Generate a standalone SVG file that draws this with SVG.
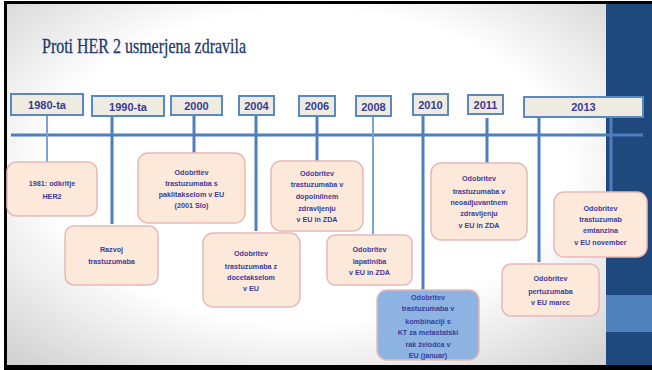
<svg xmlns="http://www.w3.org/2000/svg" width="652" height="370" viewBox="0 0 652 370">
<defs>
<radialGradient id="bg" cx="0.5" cy="0.45" r="0.72">
<stop offset="0.6" stop-color="#ffffff"/>
<stop offset="1" stop-color="#d3d3d3"/>
</radialGradient>
<style>
.yr rect{fill:#eeece1;stroke:#5b88c0;stroke-width:2}
.yr text{font-family:"Liberation Sans",Arial,sans-serif;font-weight:bold;font-size:11px;fill:#3a3a98;text-anchor:middle}
.ev rect{fill:#fde9d9;stroke:#e6b9b8;stroke-width:1.5}
.ev text{font-family:"Liberation Sans",Arial,sans-serif;font-weight:bold;font-size:7.2px;fill:#3c3c9c;text-anchor:middle}
.stem{stroke:#4f7fbd;stroke-width:3;fill:none}
.thin{stroke:#7aa2d4;stroke-width:2;fill:none}
</style>
</defs>
<rect x="0" y="0" width="652" height="370" fill="#ffffff"/>
<rect x="7" y="4" width="599" height="361" fill="url(#bg)"/>
<rect x="606" y="4" width="46" height="362" fill="#1f497d"/>
<rect x="606" y="295" width="46" height="37" fill="#4f81bd"/>
<rect x="4" y="1" width="648" height="3" fill="#000"/>
<rect x="4" y="1" width="3" height="369" fill="#000"/>
<rect x="4" y="365" width="648" height="5" fill="#000"/>
<text x="42" y="53" font-family="'Liberation Serif','Times New Roman',serif" font-size="21" fill="#213a6b" stroke="#213a6b" stroke-width="0.3" textLength="204" lengthAdjust="spacingAndGlyphs">Proti HER 2 usmerjena zdravila</text>
<g id="connectors">
<line class="stem" x1="11" y1="135" x2="643" y2="135"/>
<line class="thin" x1="47" y1="115" x2="47" y2="162"/>
<line class="stem" x1="112" y1="116" x2="112" y2="224"/>
<line class="stem" x1="194" y1="115" x2="194" y2="153"/>
<line class="stem" x1="256" y1="115" x2="256" y2="231"/>
<line class="stem" x1="317" y1="116" x2="317" y2="161"/>
<line class="thin" x1="373" y1="116" x2="373" y2="235"/>
<line class="stem" x1="423" y1="116" x2="423" y2="290"/>
<line class="stem" x1="487" y1="118" x2="487" y2="164"/>
<line class="stem" x1="539" y1="117" x2="539" y2="262"/>
<line class="stem" x1="611" y1="118" x2="611" y2="192"/>
</g>
<g id="y1980" class="yr"><rect x="11" y="94" width="72" height="21"/><text x="47" y="109">1980-ta</text></g>
<g id="y1990" class="yr"><rect x="92" y="96" width="72" height="20"/><text x="128" y="111">1990-ta</text></g>
<g id="y2000" class="yr"><rect x="171" y="96" width="51" height="19"/><text x="196.5" y="109.5">2000</text></g>
<g id="y2004" class="yr"><rect x="239" y="96" width="35" height="19"/><text x="256.5" y="109.5">2004</text></g>
<g id="y2006" class="yr"><rect x="299" y="96" width="36" height="20"/><text x="317" y="110">2006</text></g>
<g id="y2008" class="yr"><rect x="356" y="96" width="35" height="20"/><text x="373.5" y="110.5">2008</text></g>
<g id="y2010" class="yr"><rect x="413" y="94" width="35" height="21"/><text x="430.5" y="109">2010</text></g>
<g id="y2011" class="yr"><rect x="468" y="95" width="35" height="19"/><text x="485.5" y="108.5">2011</text></g>
<g id="y2013" class="yr"><rect x="524" y="97" width="119" height="20"/><text x="583.5" y="111">2013</text></g>
<g id="e1981" class="ev"><rect x="7" y="162" width="90" height="54" rx="9"/><text x="52" y="186">1981: odkritje</text><text x="52" y="198.5">HER2</text></g>
<g id="eRazvoj" class="ev"><rect x="65" y="226" width="93" height="59" rx="9"/><text x="111.5" y="252">Razvoj</text><text x="111.5" y="264">trastuzumaba</text></g>
<g id="e2000" class="ev"><rect x="138" y="153" width="107" height="70" rx="10"/><text x="191.5" y="174.5">Odobritev</text><text x="191.5" y="186">trastuzumaba s</text><text x="191.5" y="197">paklitakselom v EU</text><text x="191.5" y="208">(2001 Slo)</text></g>
<g id="e2004" class="ev"><rect x="203" y="233" width="97" height="74" rx="10"/><text x="251" y="256">Odobritev</text><text x="251" y="268.5">trastuzumaba z</text><text x="251" y="279.5">docetakselom</text><text x="251" y="291">v EU</text></g>
<g id="e2006" class="ev"><rect x="271" y="161" width="92" height="70" rx="10"/><text x="317" y="175.5">Odobritev</text><text x="317" y="187">trastuzumaba v</text><text x="317" y="198.5">dopolnilnem</text><text x="317" y="210.5">zdravljenju</text><text x="317" y="222">v EU in ZDA</text></g>
<g id="e2008" class="ev"><rect x="327" y="235" width="85" height="50" rx="8"/><text x="369.5" y="252">Odobritev</text><text x="369.5" y="264">lapatiniba</text><text x="369.5" y="274.5">v EU in ZDA</text></g>
<g id="e2010" class="ev"><rect x="377" y="290" width="102" height="70" rx="10" style="fill:#8db3e2"/><text x="428" y="299.5">Odobritev</text><text x="428" y="311">trastuzumaba v</text><text x="428" y="323.5">kombinaciji s</text><text x="428" y="335">KT za metastatski</text><text x="428" y="347">rak želodca v</text><text x="428" y="358">EU (januar)</text></g>
<g id="e2011" class="ev"><rect x="431" y="163" width="96" height="77" rx="10"/><text x="479" y="181">Odobritev</text><text x="479" y="193.5">trastuzumaba v</text><text x="479" y="204.5">neoadjuvantnem</text><text x="479" y="216">zdravljenju</text><text x="479" y="228">v EU in ZDA</text></g>
<g id="e2013a" class="ev"><rect x="502" y="264" width="97" height="52" rx="9"/><text x="550.5" y="281">Odobritev</text><text x="550.5" y="293.5">pertuzumaba</text><text x="550.5" y="304.5">v EU marec</text></g>
<g id="e2013b" class="ev"><rect x="554" y="192" width="93" height="65" rx="10"/><text x="600.5" y="210.5">Odobritev</text><text x="600.5" y="222">trastuzumab</text><text x="600.5" y="232.5">emtanzina</text><text x="600.5" y="245">v EU november</text></g>
</svg>
